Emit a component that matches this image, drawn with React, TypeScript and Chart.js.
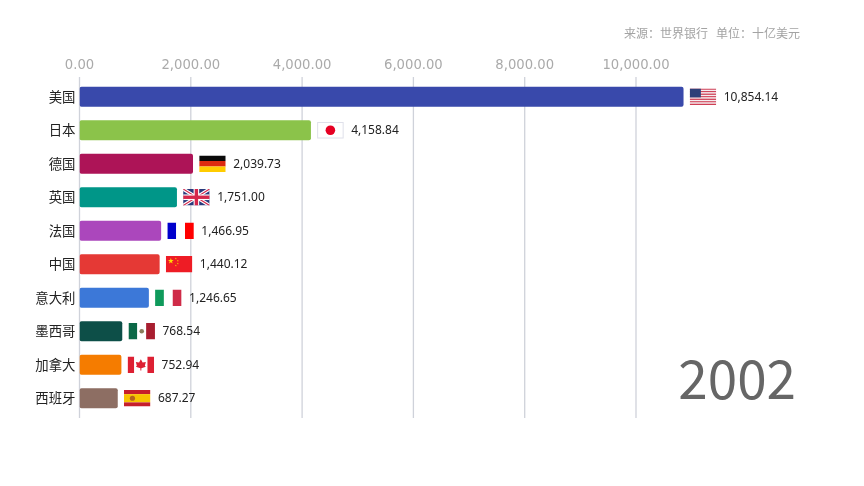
import React, { useEffect, useRef } from "react";
import { Chart, registerables } from "chart.js";

Chart.register(...registerables);

const categories = ["美国", "日本", "德国", "英国", "法国", "中国", "意大利", "墨西哥", "加拿大", "西班牙"];
const values = [10854.14, 4158.84, 2039.73, 1751.0, 1466.95, 1440.12, 1246.65, 768.54, 752.94, 687.27];
const barColors = ["#3949ab", "#8bc34a", "#ad1457", "#009688", "#ab47bc", "#e53935", "#3c78d8", "#0d4f48", "#f57c00", "#8d6e63"];
const flagCodes = ["us", "jp", "de", "gb", "fr", "cn", "it", "mx", "ca", "es"];
const yearLabel = "2002";
const sourceLabel = "来源\uFF1A世界银行   单位\uFF1A十亿美元";

const CJK = '"Noto Sans CJK SC", "Noto Sans", sans-serif';

type Ctx = CanvasRenderingContext2D;

function vstripes(c: Ctx, x: number, y: number, w: number, h: number, cols: string[]) {
  cols.forEach((col, i) => {
    c.fillStyle = col;
    c.fillRect(x + (w * i) / cols.length, y, w / cols.length, h);
  });
}
function hstripes(c: Ctx, x: number, y: number, w: number, h: number, cols: string[], weights?: number[]) {
  const ws = weights || cols.map(() => 1);
  const tot = ws.reduce((a, b) => a + b, 0);
  let cy = y;
  cols.forEach((col, i) => {
    const hh = (h * ws[i]) / tot;
    c.fillStyle = col;
    c.fillRect(x, cy, w, hh);
    cy += hh;
  });
}
function star(c: Ctx, cx: number, cy: number, r: number) {
  c.beginPath();
  for (let i = 0; i < 10; i++) {
    const a = -Math.PI / 2 + (i * Math.PI) / 5;
    const rr = i % 2 ? r * 0.4 : r;
    c.lineTo(cx + rr * Math.cos(a), cy + rr * Math.sin(a));
  }
  c.closePath();
  c.fill();
}

function drawFlag(c: Ctx, code: string, x: number, y: number, w: number, h: number) {
  c.save();
  c.beginPath();
  c.rect(x, y, w, h);
  c.clip();
  switch (code) {
    case "us": {
      const n = 13;
      for (let i = 0; i < n; i++) {
        c.fillStyle = i % 2 ? "#f4eef0" : "#cf3f55";
        c.fillRect(x, y + (h * i) / n, w, h / n + 0.2);
      }
      c.fillStyle = "#2f3f78";
      c.fillRect(x, y, w * 0.42, h * 0.54);
      break;
    }
    case "jp":
      c.fillStyle = "#ffffff";
      c.fillRect(x, y, w, h);
      c.fillStyle = "#e60023";
      c.beginPath();
      c.arc(x + w / 2, y + h / 2, h * 0.29, 0, Math.PI * 2);
      c.fill();
      break;
    case "de":
      hstripes(c, x, y, w, h, ["#0a0a0a", "#dd2a10", "#ffcc00"]);
      break;
    case "gb":
      c.fillStyle = "#2a3a7c";
      c.fillRect(x, y, w, h);
      c.strokeStyle = "#ffffff";
      c.lineWidth = 3.4;
      c.beginPath();
      c.moveTo(x, y); c.lineTo(x + w, y + h);
      c.moveTo(x + w, y); c.lineTo(x, y + h);
      c.stroke();
      c.strokeStyle = "#d5264a";
      c.lineWidth = 1.2;
      c.stroke();
      c.fillStyle = "#ffffff";
      c.fillRect(x + w / 2 - 2.8, y, 5.6, h);
      c.fillRect(x, y + h / 2 - 2.8, w, 5.6);
      c.fillStyle = "#d5264a";
      c.fillRect(x + w / 2 - 1.7, y, 3.4, h);
      c.fillRect(x, y + h / 2 - 1.7, w, 3.4);
      break;
    case "fr":
      vstripes(c, x, y, w, h, ["#0000cc", "#ffffff", "#ff0000"]);
      break;
    case "cn":
      c.fillStyle = "#ee1c25";
      c.fillRect(x, y, w, h);
      c.fillStyle = "#ffde00";
      star(c, x + 5, y + 5, 3);
      star(c, x + 10, y + 2.5, 1);
      star(c, x + 12, y + 4.8, 1);
      star(c, x + 12, y + 7.5, 1);
      star(c, x + 10, y + 9.5, 1);
      break;
    case "it":
      vstripes(c, x, y, w, h, ["#0f9a5b", "#ffffff", "#cf2b48"]);
      break;
    case "mx":
      vstripes(c, x, y, w, h, ["#0b6847", "#ffffff", "#a81e30"]);
      c.fillStyle = "#8a7d5c";
      c.beginPath();
      c.arc(x + w / 2, y + h / 2, 2.3, 0, Math.PI * 2);
      c.fill();
      break;
    case "ca": {
      vstripes(c, x, y, w, h, ["#dd2033", "#ffffff", "#ffffff", "#dd2033"]);
      c.fillStyle = "#dd2033";
      const cx = x + w / 2, cy = y + h / 2;
      c.beginPath();
      c.moveTo(cx, cy - 5.5);
      c.lineTo(cx + 1.8, cy - 2.2);
      c.lineTo(cx + 5, cy - 2.8);
      c.lineTo(cx + 4, cy + 1);
      c.lineTo(cx + 5, cy + 2);
      c.lineTo(cx + 0.5, cy + 3.6);
      c.lineTo(cx + 0.5, cy + 5.8);
      c.lineTo(cx - 0.5, cy + 5.8);
      c.lineTo(cx - 0.5, cy + 3.6);
      c.lineTo(cx - 5, cy + 2);
      c.lineTo(cx - 4, cy + 1);
      c.lineTo(cx - 5, cy - 2.8);
      c.lineTo(cx - 1.8, cy - 2.2);
      c.closePath();
      c.fill();
      break;
    }
    case "es":
      hstripes(c, x, y, w, h, ["#c61f2b", "#f7c400", "#c61f2b"], [1, 2, 1]);
      c.fillStyle = "#b5651d";
      c.beginPath();
      c.arc(x + w * 0.32, y + h / 2, 2.6, 0, Math.PI * 2);
      c.fill();
      break;
  }
  c.restore();
  if (code === "jp") {
    c.strokeStyle = "#dfe0ea";
    c.lineWidth = 1;
    c.strokeRect(x + 0.5, y + 0.5, w - 1, h - 1);
  }
}

const gridPlugin = {
  id: "extendedGrid",
  beforeDatasetsDraw(chart: any) {
    const { ctx, chartArea, scales } = chart;
    ctx.save();
    ctx.strokeStyle = "#cfd2da";
    ctx.lineWidth = 1.3;
    scales.x.ticks.forEach((t: any) => {
      const px = scales.x.getPixelForValue(t.value);
      ctx.beginPath();
      ctx.moveTo(px, chartArea.top - 3);
      ctx.lineTo(px, chartArea.bottom + 3);
      ctx.stroke();
    });
    ctx.restore();
  },
};

const endPlugin = {
  id: "barEnds",
  afterDatasetsDraw(chart: any) {
    const { ctx } = chart;
    const meta = chart.getDatasetMeta(0);
    ctx.save();
    meta.data.forEach((bar: any, i: number) => {
      const fx = bar.x + 6.2;
      const fw = 26.5;
      const fh = 16.5;
      drawFlag(ctx, flagCodes[i], fx, bar.y - fh / 2, fw, fh);
      ctx.fillStyle = "#222222";
      ctx.font = '12px "Noto Sans", sans-serif';
      ctx.textAlign = "left";
      ctx.textBaseline = "middle";
      ctx.fillText(values[i].toLocaleString("en-US", { minimumFractionDigits: 2, maximumFractionDigits: 2 }), fx + fw + 7.5, bar.y + 0.5);
    });
    ctx.restore();
  },
};

export default function App() {
  const ref = useRef<HTMLCanvasElement>(null);
  useEffect(() => {
    const chart = new Chart(ref.current as HTMLCanvasElement, {
      type: "bar",
      data: {
        labels: categories,
        datasets: [{ data: values, backgroundColor: barColors, borderRadius: 2, borderSkipped: false, barPercentage: 0.6, categoryPercentage: 1 }],
      },
      options: {
        indexAxis: "y",
        responsive: false,
        animation: false,
        layout: { padding: { top: 0, right: 116.7, bottom: 71, left: 0 } },
        plugins: { legend: { display: false }, tooltip: { enabled: false } },
        scales: {
          x: {
            position: "top",
            min: 0,
            max: 12000,
            afterBuildTicks: (s: any) => {
              s.ticks = s.ticks.filter((t: any) => t.value <= 10000);
            },
            afterFit: (s: any) => {
              s.height = 80;
            },
            grid: { display: false, drawTicks: false },
            border: { display: false },
            ticks: {
              stepSize: 2000,
              maxRotation: 0,
              padding: 7,
              color: "#aaaaaa",
              font: { family: '"DejaVu Sans"', size: 13.2 },
              callback: (v: any) => Number(v).toLocaleString("en-US", { minimumFractionDigits: 2, maximumFractionDigits: 2 }),
            },
          },
          y: {
            afterFit: (s: any) => {
              s.width = 79.5;
            },
            grid: { display: false, drawTicks: false },
            border: { display: false },
            ticks: { padding: 4, color: "#222222", font: { family: CJK, size: 13.4 } },
          },
        },
      },
      plugins: [gridPlugin, endPlugin],
    } as any);
    return () => chart.destroy();
  }, []);
  return (
    <div style={{ position: "absolute", left: 0, top: 0, width: 864, height: 486, background: "#fff", overflow: "hidden" }}>
      <canvas ref={ref} width={864} height={486} style={{ display: "block" }} />
      <div style={{ position: "absolute", right: 64, top: 24, fontFamily: CJK, fontSize: 12, color: "#a3a3a3", whiteSpace: "pre" }}>{sourceLabel}</div>
      <div style={{ position: "absolute", right: 68, top: 337, fontFamily: CJK, fontSize: 53, color: "#666666", lineHeight: "78px" }}>{yearLabel}</div>
    </div>
  );
}
